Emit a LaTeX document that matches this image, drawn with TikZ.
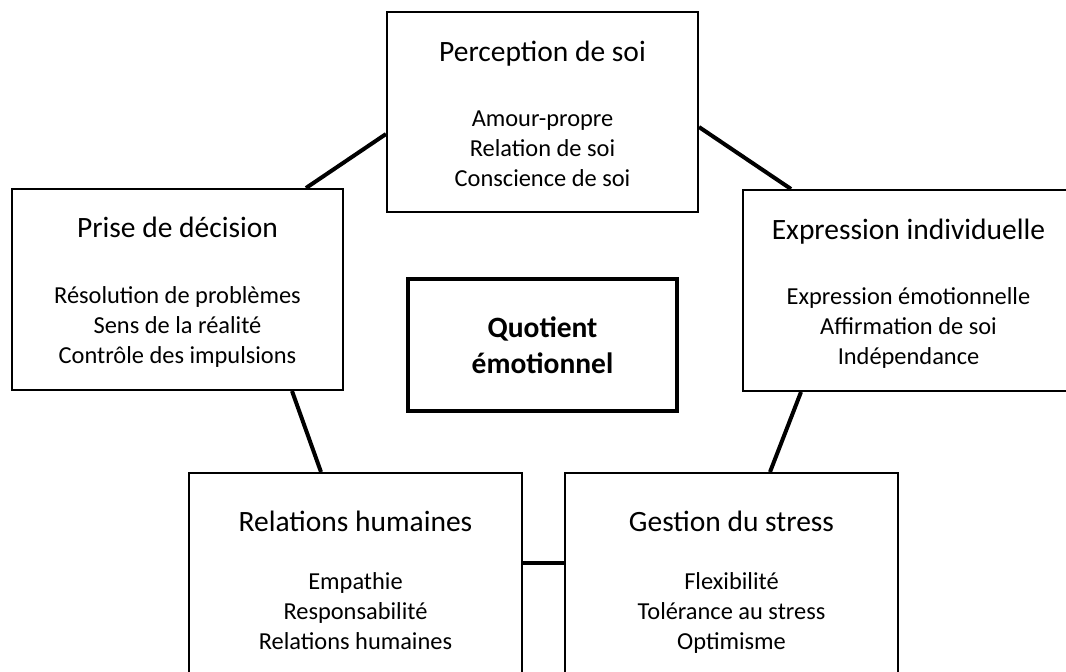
\documentclass[tikz,border=0pt]{standalone}
\usepackage{fontspec}
\setmainfont{Carlito}
\usetikzlibrary{positioning}

\begin{document}
\begin{tikzpicture}[x=1pt, y=-1pt,
  box/.style={draw, rectangle, line width=2pt, inner sep=0pt},
  title/.style={font=\fontsize{29.5}{36}\selectfont, anchor=base, inner sep=0pt},
  items/.style={font=\fontsize{24.4}{30}\selectfont, align=center, anchor=base, inner sep=0pt},
  link/.style={line width=4pt}]

\useasboundingbox (0,0) rectangle (1066,672);
\clip (0,0) rectangle (1066,672);

% the five outer boxes
\foreach \n/\x/\y/\w/\h in {perc/542.5/112/311/200, prise/177.5/289.5/331/201,
    expr/908.5/290.5/331/201, rel/355.5/605/333/264, gest/731.5/605/333/264}
  \node [box, minimum width=\w pt, minimum height=\h pt] (\n) at (\x,\y) {};

\foreach \n/\d/\t in {perc/50/Perception de soi, prise/49/Prise de décision,
    expr/50/Expression individuelle, rel/59/Relations humaines, gest/59/Gestion du stress}
  \node [title] (\n-title) at ([yshift=-\d pt]\n.north) {\t};

% base of a list is its last line
\foreach \n/\d/\t in {perc/175/Amour-propre\\Relation de soi\\Conscience de soi,
    prise/175/Résolution de problèmes\\Sens de la réalité\\Contrôle des impulsions,
    expr/175/Expression émotionnelle\\Affirmation de soi\\Indépendance,
    rel/177/Empathie\\Responsabilité\\Relations humaines,
    gest/177/Flexibilité\\Tolérance au stress\\Optimisme}
  \node [items] (\n-items) at ([yshift=-\d pt]\n.north) {\t};

% centre
\node [box, line width=3.5pt, minimum width=269pt, minimum height=132pt,
  font=\bfseries\fontsize{29.5}{36}\selectfont, align=center] (quot) at (542.5,345)
  {Quotient\\émotionnel};

% links between the boxes
\draw [link] ([xshift=295pt]prise.north west) -- ([yshift=-123pt]perc.north west);
\draw [link] ([yshift=-116pt]perc.north east) -- ([xshift=49pt]expr.north west);
\draw [link] ([xshift=281pt]prise.south west) -- ([xshift=133pt]rel.north west);
\draw [link] ([xshift=59pt]expr.south west) -- ([xshift=206pt]gest.north west);
\draw [link] ([yshift=42pt]rel.east) -- ([yshift=42pt]gest.west);

\end{tikzpicture}
\end{document}
